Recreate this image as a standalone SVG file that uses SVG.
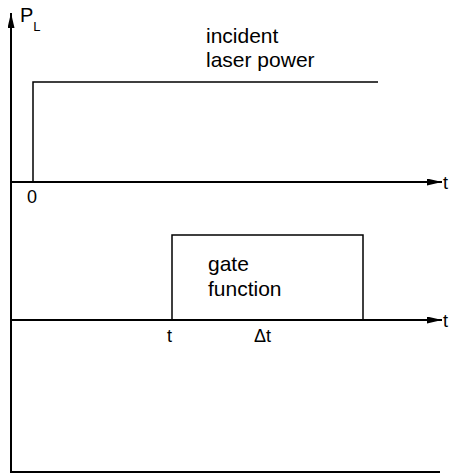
<svg xmlns="http://www.w3.org/2000/svg" width="452" height="475" viewBox="0 0 452 475">
<style>
text{font-family:"Liberation Sans",Arial,sans-serif;fill:#000}
.lbl{font-size:21px}
.ax{stroke:#000;stroke-width:2;fill:none}
.ln{stroke:#000;stroke-width:1.5;fill:none}
</style>
<defs>
<marker id="ah" markerWidth="15" markerHeight="7" refX="15" refY="3.5" orient="auto" markerUnits="userSpaceOnUse">
<path d="M0,0 L15,3.5 L0,7 Z" fill="#000"/>
</marker>
</defs>
<rect width="452" height="475" fill="#fff"/>
<g id="connectors">
<line class="ax" x1="11" y1="472" x2="11" y2="13" marker-end="url(#ah)" stroke="#444"/>
<line class="ax" x1="11" y1="182" x2="442" y2="182" marker-end="url(#ah)"/>
<line class="ax" x1="11" y1="320" x2="442" y2="320" marker-end="url(#ah)" stroke="#333"/>
<line class="ax" x1="10" y1="472" x2="440" y2="472" stroke="#444"/>
</g>
<g id="laser-power">
<polyline class="ln" points="33,182 33,82 378,82"/>
<text class="lbl" x="206" y="43">incident</text>
<text class="lbl" x="206" y="67">laser power</text>
</g>
<g id="gate-function">
<polyline class="ln" points="172,320 172,235 363,235 363,320"/>
<text class="lbl" x="208" y="271">gate</text>
<text class="lbl" x="208" y="296">function</text>
</g>
<g id="labels">
<text x="20" y="22" font-size="20">P<tspan font-size="13" dy="9">L</tspan></text>
<text x="27" y="203" font-size="18">0</text>
<text x="443" y="189" font-size="18">t</text>
<text x="443" y="327" font-size="18">t</text>
<text x="167" y="342" font-size="18">t</text>
<text x="254" y="342" font-size="18">Δt</text>
</g>
</svg>
